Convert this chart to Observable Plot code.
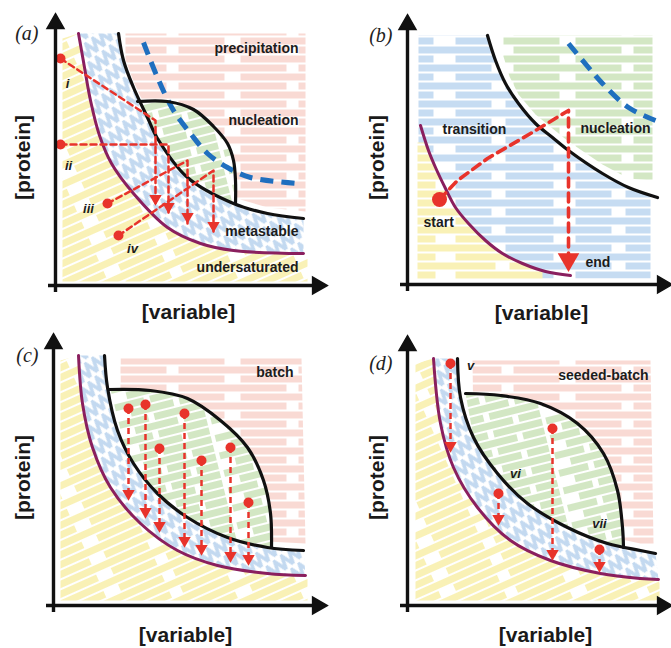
<!DOCTYPE html>
<html><head><meta charset="utf-8">
<script src="https://cdn.jsdelivr.net/npm/d3@7"></script>
<script src="https://cdn.jsdelivr.net/npm/@observablehq/plot@0.6"></script>
<style>
body{margin:0;background:#fff;}
#fig{position:relative;width:671px;height:648px;overflow:hidden;background:#fff;}
.panel{position:absolute;}
.panel svg{overflow:visible;}
</style></head><body>
<svg width="0" height="0" style="position:absolute">
<defs>
<pattern id="hPink" patternUnits="userSpaceOnUse" width="120" height="18">
<rect width="120" height="18" fill="#fff"/>
<rect x="0" y="1" width="104" height="7" fill="#f9dad4"/>
<rect x="58" y="10" width="62" height="7" fill="#f9dad4"/><rect x="0" y="10" width="46" height="7" fill="#f9dad4"/>
</pattern>
<pattern id="hGreen" patternUnits="userSpaceOnUse" width="90" height="18" patternTransform="rotate(-14)">
<rect width="90" height="18" fill="#fff"/>
<rect x="0" y="1" width="30" height="7" fill="#d3e7c4"/><rect x="36" y="1" width="50" height="7" fill="#d3e7c4"/>
<rect x="14" y="10" width="44" height="7" fill="#d3e7c4"/><rect x="64" y="10" width="22" height="7" fill="#d3e7c4"/>
</pattern>
<pattern id="hGreenB" patternUnits="userSpaceOnUse" width="120" height="18">
<rect width="120" height="18" fill="#fff"/>
<rect x="0" y="1" width="104" height="7" fill="#d3e7c4"/>
<rect x="58" y="10" width="62" height="7" fill="#d3e7c4"/><rect x="0" y="10" width="46" height="7" fill="#d3e7c4"/>
</pattern>
<pattern id="hBlue" patternUnits="userSpaceOnUse" width="120" height="18">
<rect width="120" height="18" fill="#fff"/>
<rect x="0" y="1" width="98" height="7" fill="#c6dcf2"/>
<rect x="50" y="10" width="70" height="7" fill="#c6dcf2"/><rect x="0" y="10" width="36" height="7" fill="#c6dcf2"/>
</pattern>
<pattern id="hYellow" patternUnits="userSpaceOnUse" width="120" height="18">
<rect width="120" height="18" fill="#fff"/>
<rect x="0" y="1" width="100" height="7" fill="#f9f1b6"/>
<rect x="54" y="10" width="66" height="7" fill="#f9f1b6"/><rect x="0" y="10" width="40" height="7" fill="#f9f1b6"/>
</pattern>
<pattern id="dYellow" patternUnits="userSpaceOnUse" width="120" height="18" patternTransform="rotate(-24)">
<rect width="120" height="18" fill="#fff"/>
<rect x="0" y="1" width="104" height="7" fill="#f9f1b6"/>
<rect x="56" y="10" width="64" height="7" fill="#f9f1b6"/><rect x="0" y="10" width="44" height="7" fill="#f9f1b6"/>
</pattern>
<pattern id="zBlue" patternUnits="userSpaceOnUse" width="9" height="17" patternTransform="rotate(-38)">
<rect width="9" height="17" fill="#fff"/>
<polyline points="0,15 4.5,2 9,15" fill="none" stroke="#c3d9f0" stroke-width="3.6"/>
</pattern>
</defs>
</svg>
<div id="fig"></div>
<script>
// ---------- Panel (a) ----------
const aPurple = [[23,252],[29,218],[35,185],[44,150],[56,122],[78,92],[112,58],[145,42],[178,35],[248,32]];
const aOuter = [[63,252],[68,225],[78,198],[92,168],[102,147],[132,108],[178,82],[212,72],[248,67]];
const aDome = [[82,184],[112,184],[138,176],[158,159],[172,142],[178,125],[180,105],[180,82]];
const aBlueDash = [[88,243],[102,208],[118,175],[135,152],[152,132],[172,118],[195,108],[242,102]];
const aPink = [[70,252],[250,252],[250,74],[212,78],[178,88],[132,114],[102,151],[92,174],[78,204],[70,226]];
const aPaths = [
  [[5,227],[100,165],[100,80]],
  [[5,141],[113,141],[113,72]],
  [[52,82],[132,125],[132,62]],
  [[63,50],[158,115],[158,53]]
];
const aNumerals = [["i",12,202],["ii",13,120],["iii",33,77],["iv",77,37]];
const aRegionNames = [["precipitation",243,237],["nucleation",243,165],["metastable",243,54],["undersaturated",243,18]];

// ---------- Panel (b) ----------
const bPurple = [[13,159],[21,134],[28,117],[38,96],[48,77],[61,61],[78,44],[95,31],[115,21],[138,13],[163,9]];
const bBlack = [[80,249],[88,224],[98,201],[111,181],[128,161],[145,147],[161,134],[195,111],[221,97],[250,87]];
const bBlueDash = [[161,241],[181,217],[195,201],[221,177],[248,164]];
const bBlue = [[11,249],[80,249],[88,224],[98,201],[111,181],[128,161],[145,147],[161,134],[195,111],[221,97],[243,90],[243,6],[11,6]];
const bGreen = [[96,249],[245,249],[245,104],[221,106],[195,120],[161,143],[145,156],[128,170],[111,190],[102,208],[96,228]];
const bYellow = [[10,142],[19,142],[21,134],[28,117],[38,96],[48,77],[61,61],[78,44],[95,31],[115,21],[135,14],[135,5],[10,5]];
const bPath = [[32,85],[50,104],[80,126],[123,151],[161,174],[161,24]];
const bNames = [["transition",35,155],["nucleation",173,156],["start",16,62],["end",178,22]];

// ---------- Panel (c) ----------
const cPurple = [[25,250],[29,202],[39,158],[57,118],[87,82],[124,55],[164,40],[214,32],[252,30]];
const cOuter = [[51,250],[54,218],[64,175],[80,142],[104,112],[134,88],[174,68],[214,58],[250,55]];
const cDome = [[55,216],[97,215],[134,207],[167,185],[194,158],[210,125],[217,92],[218,58]];
const cPink = [[67,247],[248,247],[252,62],[214,64],[174,74],[134,94],[104,118],[80,148],[67,172]];
const cDropX = [75,92,106,131,148,177,195];
const cDropFrom = [197,201,157,192,145,158,103];
const cDropTo = [105,87,73,58,50,43,40];
const cNames = [["batch",240,233]];

// ---------- Panel (d) ----------
const dPurple = [[26,247],[33,182],[46,138],[70,98],[103,65],[143,45],[193,32],[233,27],[251,26]];
const dOuter = [[50,247],[53,208],[66,168],[90,132],[120,102],[160,78],[200,62],[233,55],[248,52]];
const dDome = [[58,212],[93,210],[133,202],[170,182],[196,152],[210,115],[215,78],[216,58]];
const dPink = [[65,245],[243,245],[246,62],[233,62],[200,69],[160,85],[120,109],[90,139],[66,174]];
const dDropX = [43,91,145,192];
const dDropFrom = [242,112,177,56];
const dDropTo = [153,80,45,33];
const dNumerals = [["v",63,240],["vi",108,132],["vii",192,82]];
const dNames = [["seeded-batch",241,230]];

const RED = "#e8332b", PURPLE = "#8a1f5e", BLUE = "#1f6fbf";
const SANS = "Liberation Sans, Arial, Helvetica, sans-serif";
const X = d => d[0], Y = d => d[1];

function region(pts, fill) {
  return Plot.line(pts, {x: X, y: Y, fill, stroke: "none", curve: "linear"});
}
function curveLine(pts, stroke, w, dash) {
  return Plot.line(pts, {x: X, y: Y, stroke, strokeWidth: w, strokeDasharray: dash, curve: "catmull-rom", strokeLinecap: dash ? "butt" : "round"});
}
function below(curve, left, right, bottom) {
  return [[left, curve[0][1] - 5], [left, bottom], [right, bottom], [right, curve[curve.length-1][1] - 4], ...curve.slice().reverse()];
}
function between(lower, upper) {
  return [...lower, ...upper.slice().reverse()];
}
function lens(dome, outer) {
  const x0 = dome[0][0], x1 = dome[dome.length-1][0];
  return [...dome, ...outer.filter(p => p[0] < x1 && p[0] > x0).reverse()];
}
function axes(xTip, yTip) {
  return [
    Plot.ruleY([0], {x1: -7, x2: xTip - 8, stroke: "#111", strokeWidth: 3.4}),
    Plot.ruleX([0], {y1: -7, y2: yTip - 8, stroke: "#111", strokeWidth: 3.4}),
    Plot.dot([[xTip - 8, 0]], {x: X, y: Y, symbol: "triangle", r: 6.3, rotate: 90, fill: "#111", stroke: "#111"}),
    Plot.dot([[0, yTip - 8]], {x: X, y: Y, symbol: "triangle", r: 6.3, fill: "#111", stroke: "#111"})
  ];
}
function titles(letter, lx, ly, vx, vy, px, py) {
  return [
    Plot.text([letter], {x: lx, y: ly, text: d => d, textAnchor: "end", fontFamily: "Liberation Serif, DejaVu Serif, serif", fontStyle: "italic", fontSize: 20, fill: "#222"}),
    Plot.text(["[variable]"], {x: vx, y: vy, text: d => d, fontFamily: SANS, fontWeight: "bold", fontSize: 21, fill: "#1a1a1a"}),
    Plot.text(["[protein]"], {x: px, y: py, text: d => d, rotate: -90, fontFamily: SANS, fontWeight: "bold", fontSize: 21, fill: "#1a1a1a"})
  ];
}
function names(list, anchor) {
  return Plot.text(list, {x: d => d[1], y: d => d[2], text: d => d[0], textAnchor: anchor, fontFamily: SANS, fontWeight: "bold", fontSize: 14, fill: "#1c1c1c"});
}
function numerals(list) {
  return Plot.text(list, {x: d => d[1], y: d => d[2], text: d => d[0], fontFamily: SANS, fontWeight: "bold", fontStyle: "italic", fontSize: 13, fill: "#1c1c1c"});
}
function drops(xs, from, to) {
  const segs = xs.map((x, i) => ({x, y1: from[i], y2: to[i] + 8}));
  return [
    Plot.ruleX(segs, {x: "x", y1: "y1", y2: "y2", stroke: RED, strokeWidth: 2.5, strokeDasharray: "6,4"}),
    Plot.dot(segs, {x: "x", y: "y1", r: 5, fill: RED}),
    Plot.dot(segs, {x: "x", y: d => d.y2 - 1, symbol: "triangle", r: 4.6, rotate: 180, fill: RED})
  ];
}
function make(opts, marks) {
  const p = Plot.plot({
    width: opts.w, height: opts.h,
    marginLeft: opts.ml, marginRight: opts.mr, marginTop: opts.mt, marginBottom: opts.mb,
    x: {domain: [0, opts.xMax], axis: null},
    y: {domain: [0, opts.yMax], axis: null},
    style: {background: "transparent", overflow: "visible"},
    marks
  });
  const div = document.createElement("div");
  div.className = "panel";
  div.style.left = opts.left + "px";
  div.style.top = opts.top + "px";
  div.appendChild(p);
  document.getElementById("fig").appendChild(div);
}

// ---------- build (a) ----------
make({left: 0, top: 0, w: 335, h: 320, ml: 55, mr: 10, mt: 15, mb: 35, xMax: 270, yMax: 270}, [
  region(aPink, "url(#hPink)"),
  region(below(aPurple, 7, 252, 4), "url(#dYellow)"),
  region(between(aPurple, aOuter), "url(#zBlue)"),
  region(lens(aDome, aOuter), "url(#hGreen)"),
  curveLine(aBlueDash, BLUE, 5, "13,8"),
  curveLine(aPurple, PURPLE, 3),
  curveLine(aOuter, "#111", 3.2),
  curveLine(aDome, "#111", 3.2),
  ...aPaths.map(p => Plot.line(p, {x: X, y: Y, stroke: RED, strokeWidth: 2.5, strokeDasharray: "6,4"})),
  Plot.dot(aPaths.map(p => p[0]), {x: X, y: Y, r: 5, fill: RED}),
  Plot.dot(aPaths.map(p => p[2]), {x: X, y: d => d[1] + 7, symbol: "triangle", r: 4.6, rotate: 180, fill: RED}),
  ...axes(270, 270),
  names(aRegionNames, "end"),
  numerals(aNumerals),
  ...titles("(a)", -17, 252, 133, -27, -32, 128)
]);

// ---------- build (b) ----------
make({left: 335, top: 0, w: 336, h: 320, ml: 72, mr: 0, mt: 14, mb: 36, xMax: 264, yMax: 270}, [
  region(bBlue, "url(#hBlue)"),
  region(bGreen, "url(#hGreenB)"),
  region(bYellow, "url(#hYellow)"),
  curveLine(bBlueDash, BLUE, 5, "13,8"),
  curveLine(bPurple, PURPLE, 3),
  curveLine(bBlack, "#111", 3.2),
  Plot.line(bPath, {x: X, y: Y, stroke: RED, strokeWidth: 3.6, strokeDasharray: "9,6"}),
  Plot.dot([bPath[0]], {x: X, y: Y, r: 7.5, fill: RED}),
  Plot.dot([bPath[bPath.length-1]], {x: X, y: d => d[1] + 1, symbol: "triangle", r: 8, rotate: 180, fill: RED}),
  ...axes(263, 268),
  names(bNames, "start"),
  ...titles("(b)", -15, 249, 134, -29, -30, 127)
]);

// ---------- build (c) ----------
make({left: 0, top: 320, w: 335, h: 328, ml: 53, mr: 12, mt: 15, mb: 43, xMax: 270, yMax: 270}, [
  region(cPink, "url(#hPink)"),
  region(below(cPurple, 7, 254, 5), "url(#dYellow)"),
  region(between(cPurple, cOuter), "url(#zBlue)"),
  region(lens(cDome, cOuter), "url(#hGreen)"),
  curveLine(cPurple, PURPLE, 3),
  curveLine(cOuter, "#111", 3.2),
  curveLine(cDome, "#111", 3.2),
  ...drops(cDropX, cDropFrom, cDropTo),
  ...axes(272, 270),
  names(cNames, "end"),
  ...titles("(c)", -15, 250, 132, -30, -30, 128)
]);

// ---------- build (d) ----------
make({left: 335, top: 320, w: 336, h: 328, ml: 72, mr: 0, mt: 15, mb: 43, xMax: 264, yMax: 270}, [
  region(dPink, "url(#hPink)"),
  region(below(dPurple, 8, 252, 5), "url(#dYellow)"),
  region(between(dPurple, dOuter), "url(#zBlue)"),
  region(lens(dDome, dOuter), "url(#hGreen)"),
  curveLine(dPurple, PURPLE, 3),
  curveLine(dOuter, "#111", 3.2),
  curveLine(dDome, "#111", 3.2),
  ...drops(dDropX, dDropFrom, dDropTo),
  ...axes(263, 268),
  names(dNames, "end"),
  numerals(dNumerals),
  ...titles("(d)", -15, 242, 138, -30, -30, 128)
]);
</script>
</body></html>
